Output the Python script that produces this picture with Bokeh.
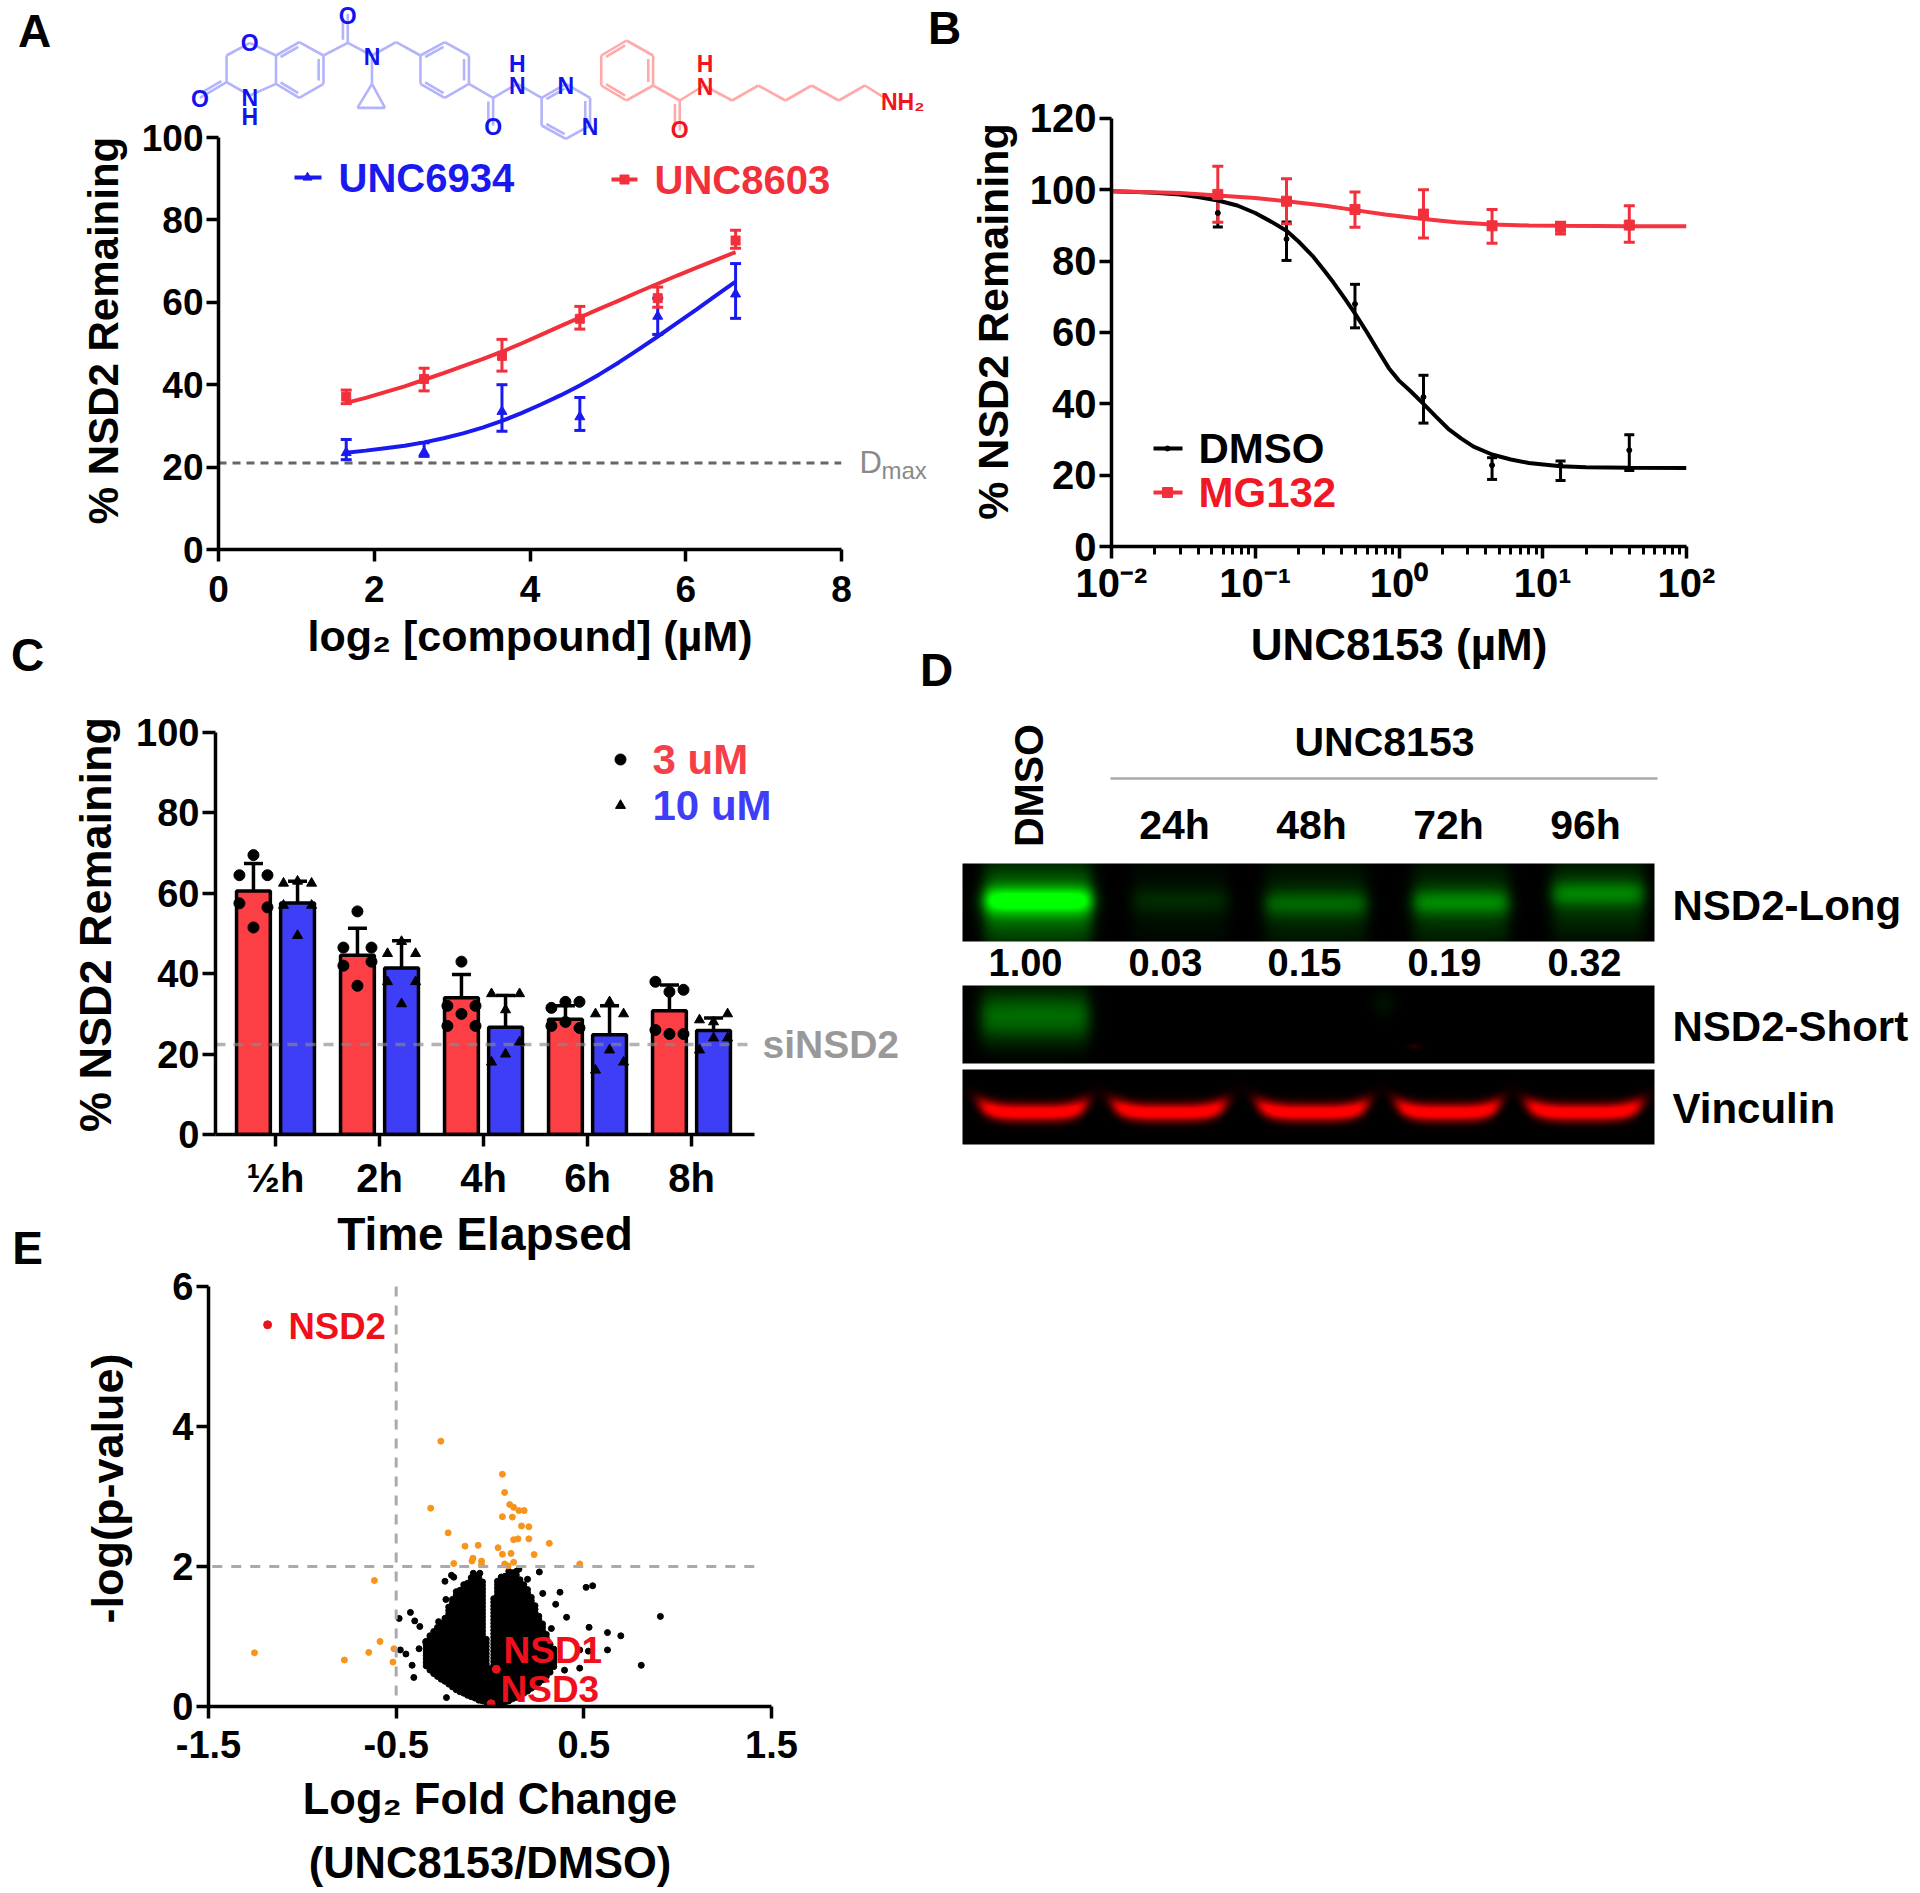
import numpy as np
from bokeh.plotting import figure
from bokeh.layouts import column, row
from bokeh.models import Range1d, Label, Whisker, TeeHead, ColumnDataSource, FixedTicker
from bokeh.embed import file_html
from bokeh.resources import INLINE

FONT = "Liberation Sans"

# ---------- Panel A data ----------
a_x = [1.64, 2.64, 3.64, 4.64, 5.64, 6.64]
unc6934_y = [23.5, 23.6, 33.5, 32.2, 56.6, 62.0]
unc6934_hi = [26.7, 25.9, 40.0, 36.9, 61.0, 69.4]
unc6934_lo = [21.8, 22.6, 28.7, 28.9, 52.2, 56.1]
unc8603_y = [37.1, 41.4, 47.0, 56.0, 61.0, 75.0]
unc8603_hi = [38.7, 44.0, 51.0, 59.0, 63.7, 77.5]
unc8603_lo = [35.4, 38.5, 43.3, 53.5, 58.8, 73.1]
a_curve_x = [1.64, 1.89, 2.14, 2.39, 2.64, 2.89, 3.14, 3.39, 3.64, 3.89, 4.14, 4.39, 4.64, 4.89, 5.14, 5.39, 5.64, 5.89, 6.14, 6.39, 6.64]
unc6934_curve = [23.5, 24.0, 24.6, 25.2, 26.0, 27.0, 28.2, 29.6, 31.2, 33.1, 35.2, 37.4, 39.8, 42.5, 45.4, 48.5, 51.7, 55.0, 58.3, 61.7, 65.0]
unc8603_curve = [35.6, 36.8, 38.2, 39.6, 41.2, 42.8, 44.5, 46.2, 48.0, 50.0, 52.1, 54.2, 56.3, 58.4, 60.4, 62.5, 64.5, 66.5, 68.4, 70.3, 72.2]
a_dmax = 21.0

# ---------- Panel B data ----------
b_x = [0.0549, 0.165, 0.494, 1.48, 4.44, 13.3, 40.0]
dmso_y = [93.5, 86.2, 68.0, 41.9, 22.8, 22.8, 27.0]
dmso_hi = [97.5, 91.0, 73.5, 48.0, 24.9, 24.0, 31.3]
dmso_lo = [89.6, 80.2, 61.3, 34.6, 18.8, 18.5, 21.3]
mg132_y = [98.7, 96.8, 94.5, 93.2, 89.9, 89.5, 90.1]
mg132_hi = [106.6, 103.1, 99.4, 100.0, 94.5, 90.9, 95.5]
mg132_lo = [90.9, 90.5, 89.5, 86.5, 85.0, 87.6, 85.3]
dmso_curve_x = [0.01, 0.015, 0.02, 0.03, 0.04, 0.055, 0.075, 0.1, 0.13, 0.165, 0.2, 0.25, 0.3, 0.35, 0.42, 0.5, 0.6, 0.7,
                0.85, 1.0, 1.2, 1.48, 1.8, 2.2, 2.7, 3.3, 4.44, 6.0, 8.0, 13.3, 20.0, 40.0, 100.0]
dmso_curve = [99.6, 99.4, 99.2, 98.7, 98.0, 97.0, 95.6, 93.5, 91.0, 88.5, 85.5, 81.5, 77.5, 74.0, 69.5, 65.0, 60.0, 55.5,
              50.0, 46.5, 43.6, 40.0, 36.5, 33.0, 30.3, 28.0, 25.8, 24.4, 23.4, 22.5, 22.2, 22.1, 22.0]
mg132_curve_x = [0.01, 0.03, 0.0549, 0.1, 0.165, 0.3, 0.494, 0.8, 1.48, 2.5, 4.44, 8.0, 13.3, 40.0, 100.0]
mg132_curve = [99.6, 99.1, 98.4, 97.7, 96.8, 95.6, 94.3, 93.1, 91.8, 90.9, 90.3, 90.0, 89.9, 89.8, 89.8]

# ---------- Panel C data ----------
c_labels = ["½h", "2h", "4h", "6h", "8h"]
c_3um = [60.6, 44.6, 34.0, 28.7, 30.8]
c_10um = [57.6, 41.4, 26.7, 24.8, 25.9]
c_3um_hi = [67.4, 51.3, 39.8, 32.0, 37.2]
c_3um_lo = [53.8, 39.3, 28.5, 26.0, 24.6]
c_10um_hi = [63.0, 48.2, 34.6, 32.0, 29.0]
c_10um_lo = [52.9, 35.6, 19.2, 17.9, 22.6]
c_sides = [0, -1, 1, -1, 1, 0]
c_3um_pts = [[69.5, 64.5, 64.5, 57.5, 56.5, 51.5], [55.5, 46.5, 46.5, 42.0, 43.0, 37.0],
             [43.0, 32.0, 32.0, 27.0, 27.0, 30.0], [33.0, 31.5, 33.0, 27.0, 26.5, 28.0],
             [35.5, 38.0, 36.0, 26.0, 25.0, 25.0]]
c_10um_pts = [[63.0, 62.5, 62.5, 57.0, 57.0, 49.5], [48.0, 45.0, 45.0, 38.0, 38.0, 32.5],
              [31.0, 35.0, 35.0, 18.0, 23.0, 20.0], [33.0, 30.0, 30.0, 16.0, 18.0, 21.0],
              [28.0, 28.5, 30.0, 21.0, 24.0, 24.0]]
c_sinsd2 = 22.4

# ---------- Panel D data ----------
d_times = ["24h", "48h", "72h", "96h"]
d_ratio = ["1.00", "0.03", "0.15", "0.19", "0.32"]
long_x0 = [984, 1132, 1265, 1413, 1552]
long_x1 = [1091, 1227, 1366, 1508, 1643]
long_yc = [900, 900, 903, 901.7, 893]
long_amp = [1.0, 0.14, 0.34, 0.46, 0.44]
vinc_x0 = [980, 1113, 1258, 1397, 1527]
vinc_x1 = [1085, 1224, 1366, 1498, 1640]

# ---------- Panel E data ----------
nsd_x = [-1.185, 0.034, 0.006]
nsd_y = [5.453, 0.531, 0.04]
sig_x = [-0.262, 0.066, 0.078, -0.316, 0.105, 0.126, 0.154, 0.182, 0.066, 0.119, 0.168, 0.207, -0.223, 0.126,
         0.149, 0.207, 0.316, -0.133, -0.063, 0.043, 0.066, 0.112, 0.235, -0.091, -0.096, -0.045, -0.045, -0.193,
         0.078, 0.096, 0.126, 0.478, -0.616, -0.586, -0.646, -1.255, -0.776, -0.512, -0.517]
sig_y = [3.79, 3.318, 3.058, 2.833, 2.885, 2.845, 2.799, 2.799, 2.712, 2.706, 2.579, 2.568, 2.481, 2.383,
         2.395, 2.395, 2.331, 2.291, 2.302, 2.268, 2.175, 2.187, 2.17, 2.118, 2.077, 2.077, 2.025, 2.043,
         2.037, 2.008, 2.06, 2.037, 1.8, 0.929, 0.773, 0.767, 0.664, 0.825, 0.635]
lone_x = [-0.484, -0.424, -0.401, -0.374, -0.232, -0.406, -0.415, -0.448, -0.478, -0.378, 0.908, 0.806, 0.697,
          0.626, 0.626, 0.528, 0.512, 0.547, 0.408, 0.373, 0.35, 0.281, 0.263, 0.478, 0.524, 0.478, 0.397, 0.339,
          0.327, -0.205, -0.24, -0.193, -0.235, -0.274, -0.32, -0.343, -0.089, -0.054, 0.154, 0.2]
lone_y = [1.258, 1.344, 1.223, 1.143, 0.127, 0.415, 0.589, 0.75, 0.808, 0.825, 1.287, 0.589, 1.01,
          1.056, 0.808, 1.131, 1.702, 1.725, 1.275, 1.633, 1.46, 1.616, 1.922, 0.808, 0.791, 0.548, 0.519, 0.692,
          1.114, 1.875, 1.789, 1.847, 1.529, 1.212, 1.01, 0.923, 1.904, 1.904, 1.962, 1.818]
blob_x = [-0.34, -0.32, -0.30, -0.28, -0.26, -0.24, -0.22, -0.20, -0.18, -0.16, -0.14, -0.12, -0.10, -0.08, -0.06,
          -0.04, -0.02, 0.00, 0.02, 0.04, 0.06, 0.08, 0.10, 0.12, 0.14, 0.16, 0.18, 0.20, 0.22, 0.24, 0.26, 0.28,
          0.30, 0.32, 0.34]
blob_high = [0.95, 1.01, 1.07, 1.15, 1.21, 1.28, 1.44, 1.56, 1.64, 1.70, 1.74, 1.79, 1.84, 1.87, 1.87,
             1.80, 1.00, 0.55, 1.55, 1.79, 1.87, 1.89, 1.93, 1.95, 1.93, 1.84, 1.76, 1.67, 1.59, 1.47, 1.33, 1.18,
             1.07, 0.92, 0.84]
blob_low = [0.58, 0.52, 0.47, 0.43, 0.39, 0.36, 0.32, 0.28, 0.24, 0.21, 0.19, 0.16, 0.14, 0.12, 0.09,
            0.08, 0.06, 0.04, 0.04, 0.04, 0.05, 0.06, 0.08, 0.11, 0.13, 0.16, 0.19, 0.22, 0.26, 0.29, 0.34, 0.38,
            0.43, 0.49, 0.57]

C_BLUE = "#1a1af0"
C_RED = "#f2303c"
PAGE_W, PAGE_H = 1920, 1893


def make_fig(left, right, top, bottom, fl, fr, ft, fb, x_range, y_range, x_axis_type="linear"):
    p = figure(width=right - left, height=bottom - top, x_range=x_range, y_range=y_range,
               x_axis_type=x_axis_type, output_backend="svg", toolbar_location=None, tools="",
               min_border_left=fl - left, min_border_right=right - fr, min_border_top=ft - top,
               min_border_bottom=bottom - fb, outline_line_color=None, background_fill_color="white",
               border_fill_color="white", frame_align=False)
    p.grid.visible = False
    return p


def style_axis(ax, tick_size, label_size, tick_standoff, label_standoff, tick_len=12):
    ax.axis_line_width = 3.5
    ax.axis_line_color = "black"
    ax.major_tick_line_width = 3.5
    ax.major_tick_line_color = "black"
    ax.major_tick_out = tick_len
    ax.major_tick_in = 0
    ax.minor_tick_out = 0
    ax.minor_tick_in = 0
    ax.major_label_text_font = FONT
    ax.major_label_text_font_style = "bold"
    ax.major_label_text_font_size = f"{tick_size}px"
    ax.major_label_text_color = "black"
    ax.major_label_standoff = tick_standoff
    ax.axis_label_text_font = FONT
    ax.axis_label_text_font_style = "bold"
    ax.axis_label_text_font_size = f"{label_size}px"
    ax.axis_label_text_color = "black"
    ax.axis_label_standoff = label_standoff


def whisk(p, x, hi, lo, color, width, head):
    src = ColumnDataSource(dict(x=x, hi=hi, lo=lo))
    p.add_layout(Whisker(source=src, base="x", upper="hi", lower="lo", line_color=color, line_width=width,
                         upper_head=TeeHead(size=head, line_color=color, line_width=width),
                         lower_head=TeeHead(size=head, line_color=color, line_width=width)))


# ================= transparent page-wide layer for annotations =================
ov = figure(width=PAGE_W, height=PAGE_H, x_range=Range1d(0, PAGE_W), y_range=Range1d(PAGE_H, 0),
            output_backend="svg", toolbar_location=None, tools="", min_border_left=0, min_border_right=0,
            min_border_top=0, min_border_bottom=0, outline_line_color=None, background_fill_color=None,
            border_fill_color=None, margin=(-PAGE_H, 0, 0, 0), frame_align=False,
            x_axis_location=None, y_axis_location=None)
ov.grid.visible = False


def txt(x, y, s, size, color="black", align="center", bold=True, angle=0.0):
    ov.add_layout(Label(x=x, y=y, text=s, text_font=FONT, text_font_size=f"{size}px",
                        text_font_style="bold" if bold else "normal", text_color=color,
                        text_align=align, text_baseline="middle", angle=angle))


# ================= Panel A =================
pa = make_fig(0, 960, 0, 695, 218, 841, 111, 549, Range1d(0, 8), Range1d(0, (549 - 111) / 4.12))
pa.yaxis.bounds = (0, 100)
pa.xaxis.ticker = FixedTicker(ticks=[0, 2, 4, 6, 8])
pa.yaxis.ticker = FixedTicker(ticks=[0, 20, 40, 60, 80, 100])
pa.xaxis.axis_label = "log₂ [compound] (µM)"
pa.yaxis.axis_label = "% NSD2 Remaining"
style_axis(pa.xaxis[0], 37, 43, 14, 7)
style_axis(pa.yaxis[0], 37, 42, 3, 12)

pa.line([0, 8], [a_dmax, a_dmax], line_color="#666666", line_width=3, line_dash="8 6")
pa.line(a_curve_x, unc6934_curve, line_color=C_BLUE, line_width=4)
pa.line(a_curve_x, unc8603_curve, line_color=C_RED, line_width=4)
whisk(pa, a_x, unc6934_hi, unc6934_lo, C_BLUE, 3, 11)
whisk(pa, a_x, unc8603_hi, unc8603_lo, C_RED, 3, 11)
pa.scatter(a_x, unc6934_y, marker="triangle", size=10, color=C_BLUE)
pa.scatter(a_x, unc8603_y, marker="square", size=9, color=C_RED)

ov.line([294, 321], [177, 177], line_color=C_BLUE, line_width=4)
ov.scatter([307], [177], marker="triangle", size=9, color=C_BLUE)
ov.line([611, 637], [179, 179], line_color=C_RED, line_width=4)
ov.scatter([624], [179], marker="square", size=9, color=C_RED)
txt(338, 177, "UNC6934", 40, C_BLUE, "left")
txt(654, 179, "UNC8603", 40, C_RED, "left")
txt(859, 462, "D", 31, "#8a8a8a", "left", bold=False)
txt(881, 470, "max", 24, "#8a8a8a", "left", bold=False)
txt(34, 30, "A", 46)
txt(944, 27, "B", 46)
txt(27, 654, "C", 46)
txt(936, 669, "D", 46)
txt(27, 1247, "E", 46)


# chemical structures (page pixels)
def SX(v):
    return 180 + v / 2.063


def SY(v):
    return v / 3.0


def draw_struct(bonds, doubles, color):
    xs, ys = [], []
    for (a, b) in bonds:
        xs.append([SX(a[0]), SX(b[0])])
        ys.append([SY(a[1]), SY(b[1])])
    for (a, b, c) in doubles:
        mx, my = (a[0] + b[0]) / 2, (a[1] + b[1]) / 2
        ox, oy = (c[0] - mx), (c[1] - my)
        n = (ox ** 2 + oy ** 2) ** 0.5
        ox, oy = ox / n * 10, oy / n * 10
        a2 = (a[0] + ox + (b[0] - a[0]) * 0.12, a[1] + oy + (b[1] - a[1]) * 0.12)
        b2 = (b[0] + ox - (b[0] - a[0]) * 0.12, b[1] + oy - (b[1] - a[1]) * 0.12)
        xs.append([SX(a2[0]), SX(b2[0])])
        ys.append([SY(a2[1]), SY(b2[1])])
    ov.multi_line(xs, ys, line_color=color, line_width=2.6)


a1, ox1, a3, a4, a5, a6, a7, a8 = (95, 165), (143, 127), (197, 165), (245, 125), (295, 165), (295, 250), (245, 292), (197, 250)
nh1, a10, o2, cb, o3, n1 = (143, 285), (95, 245), (40, 292), (345, 127), (345, 40), (395, 165)
ch2, b1, b2, b3, b4, b5, b6 = (445, 125), (495, 165), (545, 125), (595, 165), (595, 250), (545, 292), (495, 250)
c2, o4, nh2, p1, n2, p3, n3, p5, p6 = (645, 292), (645, 375), (695, 250), (745, 292), (795, 250), (845, 292), (845, 375), (795, 415), (745, 375)
cp1, cp2, cp3 = (395, 250), (365, 322), (422, 322)
rc1, rc2 = (246, 208), (545, 208)
pc = (795, 333)
blue_bonds = [(a1, ox1), (ox1, a3), (a3, a4), (a4, a5), (a5, a6), (a6, a7), (a7, a8), (a8, a3), (a8, nh1), (nh1, a10),
              (a10, a1), (a10, o2), (a5, cb), (cb, o3), (cb, n1), (n1, ch2), (ch2, b1), (b1, b2), (b2, b3), (b3, b4),
              (b4, b5), (b5, b6), (b6, b1), (b4, c2), (c2, o4), (c2, nh2), (nh2, p1), (p1, n2), (n2, p3), (p3, n3),
              (n3, p5), (p5, p6), (p6, p1), (n1, cp1), (cp1, cp2), (cp2, cp3), (cp3, cp1)]
blue_double = [(a3, a4, rc1), (a5, a6, rc1), (a7, a8, rc1), (b1, b2, rc2), (b3, b4, rc2), (b5, b6, rc2),
               (p1, n2, pc), (p3, n3, pc), (p5, p6, pc), (a10, o2, (50, 230)), (cb, o3, (330, 85)), (c2, o4, (630, 335))]
draw_struct(blue_bonds, blue_double, "#b4b4fb")

r1, r2, r3, r4, r5, r6 = (920, 120), (975, 165), (975, 255), (920, 300), (868, 255), (868, 165)
rc, ro, rn = (1030, 300), (1030, 390), (1080, 255)
chain = [(1138, 300), (1192, 255), (1248, 300), (1302, 255), (1358, 300), (1412, 255), (1450, 290)]
rcent = (920, 210)
red_bonds = [(r1, r2), (r2, r3), (r3, r4), (r4, r5), (r5, r6), (r6, r1), (r3, rc), (rc, ro), (rc, rn), (rn, chain[0])]
red_bonds += [(chain[i], chain[i + 1]) for i in range(len(chain) - 1)]
red_double = [(r1, r6, rcent), (r2, r3, rcent), (r4, r5, rcent), (rc, ro, (1015, 345))]
draw_struct(red_bonds, red_double, "#ffaaaa")

A_BLUE = "#1212ee"
A_RED = "#f0141e"
for (zx, zy, s) in [(143, 127, "O"), (143, 293, "N"), (143, 350, "H"), (40, 295, "O"), (345, 45, "O"), (395, 170, "N"),
                    (695, 190, "H"), (695, 255, "N"), (795, 255, "N"), (845, 380, "N"), (645, 378, "O")]:
    txt(SX(zx), SY(zy), s, 23, A_BLUE)
for (zx, zy, s) in [(1082, 258, "N"), (1082, 190, "H"), (1030, 388, "O")]:
    txt(SX(zx), SY(zy), s, 23, A_RED)
txt(SX(1445), SY(303), "NH₂", 23, A_RED, "left")

# ================= Panel B =================
pb = make_fig(960, 1920, 0, 695, 1111, 1686, 96, 546, Range1d(0.01, 100), Range1d(0, (546 - 96) / 3.567),
              x_axis_type="log")
pb.yaxis.bounds = (0, 120)
b_minor = [m * 10.0 ** k for k in range(-2, 2) for m in range(2, 10)]
pb.xaxis.ticker = FixedTicker(ticks=[0.01, 0.1, 1, 10, 100], minor_ticks=b_minor)
pb.yaxis.ticker = FixedTicker(ticks=[0, 20, 40, 60, 80, 100, 120])
pb.xaxis.major_label_overrides = {0.01: "10⁻²", 0.1: "10⁻¹", 1: "10⁰", 10: "10¹", 100: "10²"}
pb.xaxis.axis_label = "UNC8153 (µM)"
pb.yaxis.axis_label = "% NSD2 Remaining"
style_axis(pb.xaxis[0], 40, 44, 2, 12)
style_axis(pb.yaxis[0], 40, 43, 3, 10)
pb.xaxis.minor_tick_out = 8
pb.xaxis.minor_tick_line_width = 3
pb.xaxis.minor_tick_line_color = "black"

pb.line(dmso_curve_x, dmso_curve, line_color="black", line_width=4)
pb.line(mg132_curve_x, mg132_curve, line_color="#f4343f", line_width=4)
whisk(pb, b_x, dmso_hi, dmso_lo, "black", 3, 10)
whisk(pb, b_x, mg132_hi, mg132_lo, C_RED, 3, 11)
pb.scatter(b_x, dmso_y, marker="circle", size=5, color="black")
pb.scatter(b_x, mg132_y, marker="square", size=10, color=C_RED)
ov.line([1153, 1182], [448, 448], line_color="black", line_width=4)
ov.scatter([1167], [448], marker="circle", size=5, color="black")
ov.line([1153, 1182], [492, 492], line_color=C_RED, line_width=4)
ov.scatter([1167], [492], marker="square", size=10, color=C_RED)
txt(1198, 448, "DMSO", 42, "black", "left")
txt(1198, 492, "MG132", 42, "#f01824", "left")

# ================= Panel C =================
pc_fig = make_fig(0, 955, 695, 1264, 215, 754, 714, 1134,
                  Range1d((215 - 275) / 104.0, (754 - 275) / 104.0), Range1d(0, (1134 - 714) / 4.02))
pc_fig.yaxis.bounds = (0, 100)
pc_fig.xaxis.ticker = FixedTicker(ticks=list(range(len(c_labels))))
pc_fig.xaxis.major_label_overrides = {i: s for i, s in enumerate(c_labels)}
pc_fig.yaxis.ticker = FixedTicker(ticks=[0, 20, 40, 60, 80, 100])
pc_fig.xaxis.axis_label = "Time Elapsed"
pc_fig.yaxis.axis_label = "% NSD2 Remaining"
style_axis(pc_fig.xaxis[0], 40, 46, 9, 5)
style_axis(pc_fig.yaxis[0], 38, 45, 3, 12, tick_len=13)

OFF = 0.212
idx = np.arange(len(c_labels))
pc_fig.vbar(x=idx - OFF, top=c_3um, width=0.325, fill_color="#fb3f44", line_color="black", line_width=3.5)
pc_fig.vbar(x=idx + OFF, top=c_10um, width=0.325, fill_color="#3e3ef6", line_color="black", line_width=3.5)
pc_fig.line([-0.577, 4.6], [c_sinsd2, c_sinsd2], line_color="#8a8a8a", line_alpha=0.65, line_width=3.5, line_dash="10 8")
whisk(pc_fig, list(idx - OFF), c_3um_hi, c_3um_lo, "black", 3.5, 19)
whisk(pc_fig, list(idx + OFF), c_10um_hi, c_10um_lo, "black", 3.5, 19)
for i in idx:
    xs_r = [i - OFF + s * 0.135 for s in c_sides]
    xs_b = [i + OFF + s * 0.135 for s in c_sides]
    pc_fig.scatter(xs_r, c_3um_pts[i], marker="circle", size=11, color="black")
    pc_fig.scatter(xs_b, c_10um_pts[i], marker="triangle", size=10, color="black")
ov.scatter([620], [759], marker="circle", size=11, color="black")
ov.scatter([620], [805], marker="triangle", size=10, color="black")
txt(652, 759, "3 uM", 42, "#f5404a", "left")
txt(652, 805, "10 uM", 42, "#3e3ef6", "left")
txt(762, 1044, "siNSD2", 39, "#999999", "left")

# ================= Panel D =================
pd_fig = make_fig(955, 1920, 695, 1264, 955, 1920, 695, 1264, Range1d(955, 1920), Range1d(-1264, -695))
pd_fig.axis.visible = False
BLOT_X0, BLOT_X1 = 962, 1654


def blot_image(y0, y1, bands):
    """bands: (channel, x0, x1, yc, sigma, amp, curve)"""
    w, h = BLOT_X1 - BLOT_X0, y1 - y0
    X, Y = np.meshgrid(np.arange(BLOT_X0, BLOT_X1) + 0.5, np.arange(y0, y1) + 0.5)
    rgb = np.zeros((h, w, 3), dtype=float)
    for (ch, x0, x1, yc, sy, amp, curve) in bands:
        xm, hw = (x0 + x1) / 2.0, (x1 - x0) / 2.0
        u = (X - xm) / hw
        edge = 1.0 / (1.0 + np.exp((np.abs(X - xm) - hw) / 4.0))
        ym = yc - curve * u ** 4
        rgb[:, :, ch] += amp * edge * np.exp(-0.5 * ((Y - ym) / sy) ** 2)
    rgb = np.clip(rgb, 0, 1)
    img = np.zeros((h, w), dtype=np.uint32)
    view = img.view(np.uint8).reshape((h, w, 4))
    view[:, :, :3] = (rgb * 255).astype(np.uint8)
    view[:, :, 3] = 255
    return img[::-1]


long_bands = []
for i in range(5):
    long_bands.append((1, long_x0[i], long_x1[i], long_yc[i], 9, long_amp[i] * 0.7, 0))
    long_bands.append((1, long_x0[i], long_x1[i], long_yc[i] + 4, 28, long_amp[i] * 0.5, 0))
short_bands = [(1, 981, 1088, 1016, 18, 0.42, 0), (1, 1375, 1392, 1003, 10, 0.08, 0), (0, 1412, 1416, 1046, 2, 0.25, 0)]
vinc_bands = [(0, vinc_x0[i], vinc_x1[i], 1112, 6.2, 1.15, 8) for i in range(5)]

for (y0, y1, bands) in [(863, 941, long_bands), (985, 1063, short_bands), (1069, 1144, vinc_bands)]:
    pd_fig.image_rgba(image=[blot_image(y0, y1, bands)], x=BLOT_X0, y=-y1, dw=BLOT_X1 - BLOT_X0, dh=y1 - y0)

txt(1028, 785, "DMSO", 41, angle=np.pi / 2)
txt(1384, 741, "UNC8153", 41)
ov.line([1110, 1657], [778, 778], line_color="#aaaaaa", line_width=2.5)
for x, s in zip([1174, 1311, 1448, 1585], d_times):
    txt(x, 824, s, 41)
for x, s in zip([1025, 1165, 1304, 1444, 1584], d_ratio):
    txt(x, 962, s, 38)
txt(1672, 905, "NSD2-Long", 42, "black", "left")
txt(1672, 1026, "NSD2-Short", 42, "black", "left")
txt(1672, 1108, "Vinculin", 42, "black", "left")

# ================= Panel E =================
pe = make_fig(0, 900, 1264, 1893, 208, 771, 1270, 1706, Range1d(-1.5, 1.5), Range1d(0, (1706 - 1270) / 70.0))
pe.yaxis.bounds = (0, 6)
pe.xaxis.ticker = FixedTicker(ticks=[-1.5, -0.5, 0.5, 1.5])
pe.xaxis.major_label_overrides = {-1.5: "-1.5", -0.5: "-0.5", 0.5: "0.5", 1.5: "1.5"}
pe.yaxis.ticker = FixedTicker(ticks=[0, 2, 4, 6])
pe.xaxis.axis_label = "Log₂ Fold Change\n(UNC8153/DMSO)"
pe.yaxis.axis_label = "-log(p-value)"
style_axis(pe.xaxis[0], 38, 43.5, 12, 14)
style_axis(pe.yaxis[0], 38, 45, 3, 36)
pe.xaxis.axis_label_text_line_height = 1.35

blob_px = []
blob_py = []
for x, lo, hi in zip(blob_x, blob_low, blob_high):
    ys = np.arange(lo, hi + 1e-9, 0.05)
    blob_px += [x] * len(ys)
    blob_py += list(ys)
pe.scatter(blob_px, blob_py, marker="circle", size=6, color="black")
pe.scatter(lone_x, lone_y, marker="circle", size=6, color="black")
pe.scatter(sig_x, sig_y, marker="circle", size=6, color="#f7941d")
pe.line([-1.48, 1.45], [2, 2], line_color="#aaaaaa", line_width=3, line_dash="10 9")
pe.line([-0.5, -0.5], [6, 0.05], line_color="#aaaaaa", line_width=3, line_dash="10 9")
pe.scatter(nsd_x, nsd_y, marker="circle", size=8, color="#e8141c")
txt(288, 1326, "NSD2", 36.5, "#f0101c", "left")
txt(503, 1650, "NSD1", 37, "#f0101c", "left")
txt(500, 1689, "NSD3", 37, "#f0101c", "left")

layout = column(row(pa, pb, spacing=0), row(pc_fig, pd_fig, spacing=0), pe, ov, spacing=0)
open("out.html", "w").write(file_html(layout, INLINE))
